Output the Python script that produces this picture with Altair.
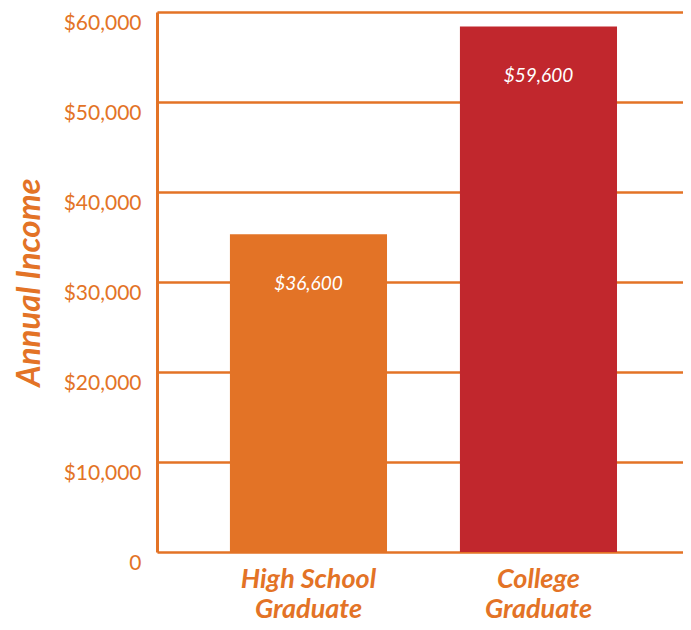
import altair as alt
import pandas as pd

categories = ["High School|Graduate", "College|Graduate"]
bar_values = [35300, 58400]
value_labels = ["$36,600", "$59,600"]
colors = ["#E37326", "#C1272D"]

df = pd.DataFrame({"cat": categories, "value": bar_values, "label": value_labels})

ORANGE = "#E37326"

x = alt.X("cat:N", sort=categories,
          scale=alt.Scale(paddingInner=0.317, paddingOuter=0.302, align=0.525),
          axis=alt.Axis(title=None, labelAngle=0, domain=False, ticks=False,
                        labelExpr="split(datum.label, '|')",
                        labelFont="Lato", labelFontSize=27, labelFontWeight="bold",
                        labelFontStyle="italic", labelColor=ORANGE,
                        labelLineHeight=30, labelPadding=14, labelBaseline="top"))

y = alt.Y("value:Q", scale=alt.Scale(domain=[0, 60000]),
          axis=alt.Axis(title="Annual Income", values=[0, 10000, 20000, 30000, 40000, 50000, 60000],
                        labelExpr="datum.value == 0 ? '0' : '$' + format(datum.value, ',')",
                        labelFont="Lato", labelFontSize=21, labelColor=ORANGE,
                        labelBaseline="top",
                        labelPadding=16, ticks=False,
                        domainColor=ORANGE, domainWidth=3,
                        grid=True, gridColor=ORANGE, gridWidth=2.5, gridOpacity=1,
                        titleFont="Lato", titleFontSize=33, titleFontWeight="bold",
                        titleFontStyle="italic", titleColor=ORANGE, titlePadding=17))

bars = alt.Chart(df).mark_bar().encode(
    x=x, y=y,
    color=alt.Color("cat:N", sort=categories,
                    scale=alt.Scale(domain=categories, range=colors), legend=None),
)

text = alt.Chart(df).mark_text(
    font="Lato", fontSize=19, fontStyle="italic", color="white",
    baseline="middle", dy=50
).encode(x=alt.X("cat:N", sort=categories), y="value:Q", text="label:N")

chart = (bars + text).properties(
    width=526, height=540,
    autosize=alt.AutoSizeParams(type="none"),
    padding={"left": 149, "top": 4, "right": 0, "bottom": 70},
).configure_view(stroke=None).configure(background="white")

chart.save("out.html", embed_options={"renderer": "svg", "actions": False})
